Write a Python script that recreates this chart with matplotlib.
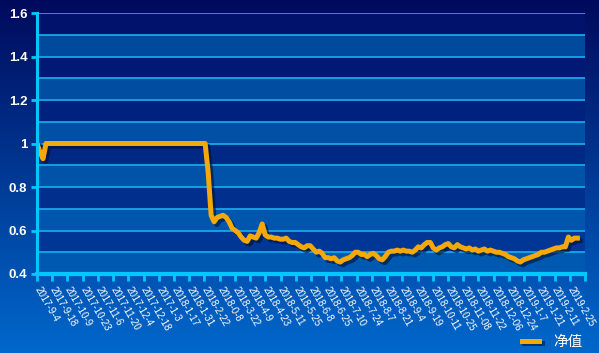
import numpy as np
import matplotlib
matplotlib.use("Agg")
import matplotlib.pyplot as plt
import matplotlib.patheffects as pe
from matplotlib.colors import to_rgb

categories = ["2017-9-4", "2017-9-18", "2017-10-9", "2017-10-23", "2017-11-6", "2017-11-20",
              "2017-12-4", "2017-12-18", "2017-1-3", "2018-1-17", "2018-1-31", "2018-2-22",
              "2018-0-8", "2018-3-22", "2018-4-9", "2018-4-23", "2018-5-11", "2018-5-25",
              "2018-6-8", "2018-6-25", "2018-7-10", "2018-7-24", "2018-8-7", "2018-8-21",
              "2018-9-4", "2018-9-19", "2018-10-11", "2018-10-25", "2018-11-08", "2018-11-22",
              "2018-12-06", "2018-12-24", "2019-1-7", "2019-1-21", "2019-2-11", "2019-2-25"]

nav = ([1.00, 0.96, 0.93] + [1.00] * 54 +
       [0.87, 0.67, 0.64, 0.66, 0.665, 0.67, 0.66, 0.64, 0.61, 0.60,
        0.59, 0.57, 0.555, 0.55, 0.575, 0.57, 0.565, 0.59, 0.63, 0.58,
        0.57, 0.57, 0.565, 0.565, 0.56, 0.56, 0.565, 0.55, 0.545, 0.545,
        0.535, 0.525, 0.52, 0.53, 0.53, 0.515, 0.50, 0.505, 0.495, 0.475,
        0.475, 0.47, 0.475, 0.46, 0.455, 0.465, 0.47, 0.475, 0.485, 0.50,
        0.50, 0.49, 0.49, 0.48, 0.49, 0.495, 0.485, 0.47, 0.465, 0.48,
        0.50, 0.505, 0.505, 0.51, 0.505, 0.51, 0.505, 0.505, 0.50, 0.51,
        0.525, 0.52, 0.535, 0.545, 0.545, 0.52, 0.51, 0.52, 0.525, 0.535,
        0.54, 0.525, 0.52, 0.535, 0.525, 0.52, 0.515, 0.52, 0.51, 0.515,
        0.505, 0.51, 0.515, 0.505, 0.51, 0.505, 0.50, 0.50, 0.495, 0.49,
        0.48, 0.475, 0.47, 0.46, 0.455, 0.465, 0.47, 0.475, 0.48, 0.485,
        0.49, 0.50, 0.50, 0.505, 0.51, 0.515, 0.52, 0.52, 0.525, 0.525,
        0.57, 0.555, 0.565, 0.565])

y_ticks = [0.4, 0.6, 0.8, 1.0, 1.2, 1.4, 1.6]
y_labels = ["0.4", "0.6", "0.8", "1", "1.2", "1.4", "1.6"]
series_name = "净值"

W, H, DPI = 599, 353, 100
fig = plt.figure(figsize=(W / DPI, H / DPI), dpi=DPI)

# background gradient
top_c = np.array(to_rgb("#000a5c"))
bot_c = np.array(to_rgb("#0068cc"))
t = np.linspace(0, 1, 256)[:, None]
grad = top_c[None, :] * (1 - t) + bot_c[None, :] * t
bg = fig.add_axes([0, 0, 1, 1], zorder=-10)
bg.imshow(grad[:, None, :].repeat(2, axis=1), aspect="auto", extent=[0, 1, 0, 1])
bg.axis("off")

ax = fig.add_axes([37 / W, 1 - 274 / H, (585 - 37) / W, (274 - 13) / H])
ax.set_facecolor("none")
ymin, ymax = 0.4, 1.6
ax.set_ylim(ymin, ymax)
ax.set_xlim(0, len(categories))

dark_top, dark_bot = np.array(to_rgb("#00106a")), np.array(to_rgb("#003c9c"))
light_top, light_bot = np.array(to_rgb("#00489a")), np.array(to_rgb("#005ab2"))
edges = np.round(np.arange(ymin, ymax + 1e-9, 0.1), 2)
for i in range(len(edges) - 1):
    lo, hi = edges[i], edges[i + 1]
    f = 1 - ((lo + hi) / 2 - ymin) / (ymax - ymin)
    if i % 2 == 1:
        c = dark_top * (1 - f) + dark_bot * f
    else:
        c = light_top * (1 - f) + light_bot * f
    ax.axhspan(lo, hi, color=c, lw=0, zorder=0)
for e in edges[1:]:
    ax.axhline(e, color="#14a8e8", lw=1.3, zorder=1)

x = np.linspace(0, 35.5, len(nav))
ax.plot(x, nav, color="#f5a80a", lw=3.6, solid_joinstyle="round", zorder=5,
        label=series_name,
        path_effects=[pe.SimpleLineShadow(offset=(2, -2), shadow_color="#001030", alpha=0.6),
                      pe.Normal()])

for s in ["top", "right"]:
    ax.spines[s].set_visible(False)
ax.spines["left"].set_color("#00c8ff")
ax.spines["left"].set_linewidth(2.2)
ax.spines["bottom"].set_color("#00c8ff")
ax.spines["bottom"].set_linewidth(3)
ax.spines["left"].set_zorder(6)
ax.spines["bottom"].set_zorder(6)

ax.set_yticks(y_ticks)
ax.set_yticklabels(y_labels, color="white", fontsize=9.5, fontweight="bold",
                   family="Liberation Sans")
ax.tick_params(axis="y", length=4, width=2, color="#00c8ff", pad=3)

ax.set_xticks(np.arange(len(categories) + 1))
ax.set_xticklabels(categories + [""], rotation=-60, ha="left", va="center",
                   rotation_mode="anchor", color="white", fontsize=7,
                   family="Liberation Sans")
ax.tick_params(axis="x", length=5, width=2, color="#00c8ff", pad=5)

leg = fig.legend(loc="lower right", bbox_to_anchor=(0.995, -0.025), frameon=False,
                 handlelength=1.2, handletextpad=1.0,
                 prop={"family": ["Noto Sans CJK SC", "DejaVu Sans"], "size": 10.5})
for txt in leg.get_texts():
    txt.set_color("white")

fig.savefig("out.png", dpi=DPI)
